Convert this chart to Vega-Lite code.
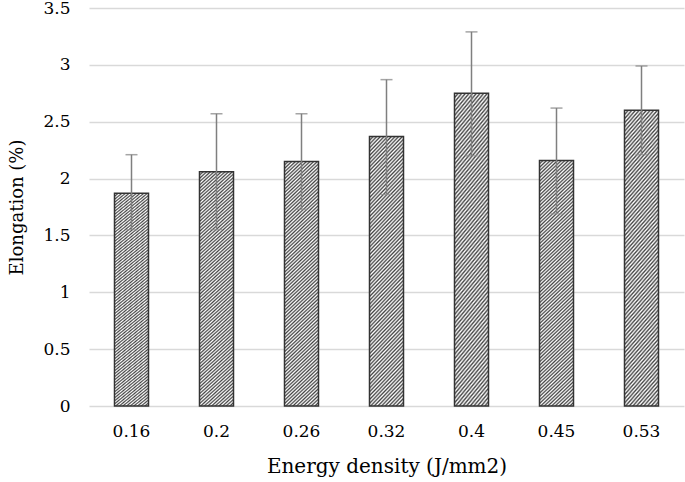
{
  "$schema": "https://vega.github.io/schema/vega-lite/v6.json",
  "width": 595,
  "height": 398,
  "autosize": {"type": "none"},
  "padding": {"left": 89, "top": 8, "right": 1, "bottom": 76},
  "background": "#ffffff",
  "config": {
    "view": {"stroke": null},
    "font": "DejaVu Serif",
    "axis": {"labelColor": "#000000", "titleColor": "#000000", "titleFontWeight": "normal"}
  },
  "data": {
    "values": [
      {"density": "0.16", "elongation": 1.87, "lo": 1.55, "hi": 2.21},
      {"density": "0.2", "elongation": 2.06, "lo": 1.55, "hi": 2.57},
      {"density": "0.26", "elongation": 2.15, "lo": 1.73, "hi": 2.57},
      {"density": "0.32", "elongation": 2.37, "lo": 1.86, "hi": 2.87},
      {"density": "0.4", "elongation": 2.75, "lo": 2.2, "hi": 3.29},
      {"density": "0.45", "elongation": 2.16, "lo": 1.69, "hi": 2.62},
      {"density": "0.53", "elongation": 2.6, "lo": 2.21, "hi": 2.99}
    ]
  },
  "encoding": {
    "x": {
      "field": "density",
      "type": "nominal",
      "sort": null,
      "scale": {"paddingInner": 0.6, "paddingOuter": 0.3},
      "axis": {
        "title": "Energy density (J/mm2)",
        "titleFont": "DejaVu Serif",
        "labelFont": "DejaVu Serif",
        "titleFontSize": 20,
        "titlePadding": 17,
        "labelFontSize": 17,
        "labelAngle": 0,
        "labelPadding": 17,
        "ticks": false,
        "domain": false
      }
    }
  },
  "layer": [
    {
      "mark": {
        "type": "bar",
        "stroke": "#333333",
        "strokeWidth": 1.5,
        "fill": {
          "gradient": "linear",
          "x1": 0, "y1": 0, "x2": 0.1464, "y2": 1.1123,
          "stops": [
            {"offset": 0, "color": "#444"}, {"offset": 0.00625, "color": "#fff"},
            {"offset": 0.0125, "color": "#444"}, {"offset": 0.01875, "color": "#fff"},
            {"offset": 0.025, "color": "#444"}, {"offset": 0.03125, "color": "#fff"},
            {"offset": 0.0375, "color": "#444"}, {"offset": 0.04375, "color": "#fff"},
            {"offset": 0.05, "color": "#444"}, {"offset": 0.05625, "color": "#fff"},
            {"offset": 0.0625, "color": "#444"}, {"offset": 0.06875, "color": "#fff"},
            {"offset": 0.075, "color": "#444"}, {"offset": 0.08125, "color": "#fff"},
            {"offset": 0.0875, "color": "#444"}, {"offset": 0.09375, "color": "#fff"},
            {"offset": 0.1, "color": "#444"}, {"offset": 0.10625, "color": "#fff"},
            {"offset": 0.1125, "color": "#444"}, {"offset": 0.11875, "color": "#fff"},
            {"offset": 0.125, "color": "#444"}, {"offset": 0.13125, "color": "#fff"},
            {"offset": 0.1375, "color": "#444"}, {"offset": 0.14375, "color": "#fff"},
            {"offset": 0.15, "color": "#444"}, {"offset": 0.15625, "color": "#fff"},
            {"offset": 0.1625, "color": "#444"}, {"offset": 0.16875, "color": "#fff"},
            {"offset": 0.175, "color": "#444"}, {"offset": 0.18125, "color": "#fff"},
            {"offset": 0.1875, "color": "#444"}, {"offset": 0.19375, "color": "#fff"},
            {"offset": 0.2, "color": "#444"}, {"offset": 0.20625, "color": "#fff"},
            {"offset": 0.2125, "color": "#444"}, {"offset": 0.21875, "color": "#fff"},
            {"offset": 0.225, "color": "#444"}, {"offset": 0.23125, "color": "#fff"},
            {"offset": 0.2375, "color": "#444"}, {"offset": 0.24375, "color": "#fff"},
            {"offset": 0.25, "color": "#444"}, {"offset": 0.25625, "color": "#fff"},
            {"offset": 0.2625, "color": "#444"}, {"offset": 0.26875, "color": "#fff"},
            {"offset": 0.275, "color": "#444"}, {"offset": 0.28125, "color": "#fff"},
            {"offset": 0.2875, "color": "#444"}, {"offset": 0.29375, "color": "#fff"},
            {"offset": 0.3, "color": "#444"}, {"offset": 0.30625, "color": "#fff"},
            {"offset": 0.3125, "color": "#444"}, {"offset": 0.31875, "color": "#fff"},
            {"offset": 0.325, "color": "#444"}, {"offset": 0.33125, "color": "#fff"},
            {"offset": 0.3375, "color": "#444"}, {"offset": 0.34375, "color": "#fff"},
            {"offset": 0.35, "color": "#444"}, {"offset": 0.35625, "color": "#fff"},
            {"offset": 0.3625, "color": "#444"}, {"offset": 0.36875, "color": "#fff"},
            {"offset": 0.375, "color": "#444"}, {"offset": 0.38125, "color": "#fff"},
            {"offset": 0.3875, "color": "#444"}, {"offset": 0.39375, "color": "#fff"},
            {"offset": 0.4, "color": "#444"}, {"offset": 0.40625, "color": "#fff"},
            {"offset": 0.4125, "color": "#444"}, {"offset": 0.41875, "color": "#fff"},
            {"offset": 0.425, "color": "#444"}, {"offset": 0.43125, "color": "#fff"},
            {"offset": 0.4375, "color": "#444"}, {"offset": 0.44375, "color": "#fff"},
            {"offset": 0.45, "color": "#444"}, {"offset": 0.45625, "color": "#fff"},
            {"offset": 0.4625, "color": "#444"}, {"offset": 0.46875, "color": "#fff"},
            {"offset": 0.475, "color": "#444"}, {"offset": 0.48125, "color": "#fff"},
            {"offset": 0.4875, "color": "#444"}, {"offset": 0.49375, "color": "#fff"},
            {"offset": 0.5, "color": "#444"}, {"offset": 0.50625, "color": "#fff"},
            {"offset": 0.5125, "color": "#444"}, {"offset": 0.51875, "color": "#fff"},
            {"offset": 0.525, "color": "#444"}, {"offset": 0.53125, "color": "#fff"},
            {"offset": 0.5375, "color": "#444"}, {"offset": 0.54375, "color": "#fff"},
            {"offset": 0.55, "color": "#444"}, {"offset": 0.55625, "color": "#fff"},
            {"offset": 0.5625, "color": "#444"}, {"offset": 0.56875, "color": "#fff"},
            {"offset": 0.575, "color": "#444"}, {"offset": 0.58125, "color": "#fff"},
            {"offset": 0.5875, "color": "#444"}, {"offset": 0.59375, "color": "#fff"},
            {"offset": 0.6, "color": "#444"}, {"offset": 0.60625, "color": "#fff"},
            {"offset": 0.6125, "color": "#444"}, {"offset": 0.61875, "color": "#fff"},
            {"offset": 0.625, "color": "#444"}, {"offset": 0.63125, "color": "#fff"},
            {"offset": 0.6375, "color": "#444"}, {"offset": 0.64375, "color": "#fff"},
            {"offset": 0.65, "color": "#444"}, {"offset": 0.65625, "color": "#fff"},
            {"offset": 0.6625, "color": "#444"}, {"offset": 0.66875, "color": "#fff"},
            {"offset": 0.675, "color": "#444"}, {"offset": 0.68125, "color": "#fff"},
            {"offset": 0.6875, "color": "#444"}, {"offset": 0.69375, "color": "#fff"},
            {"offset": 0.7, "color": "#444"}, {"offset": 0.70625, "color": "#fff"},
            {"offset": 0.7125, "color": "#444"}, {"offset": 0.71875, "color": "#fff"},
            {"offset": 0.725, "color": "#444"}, {"offset": 0.73125, "color": "#fff"},
            {"offset": 0.7375, "color": "#444"}, {"offset": 0.74375, "color": "#fff"},
            {"offset": 0.75, "color": "#444"}, {"offset": 0.75625, "color": "#fff"},
            {"offset": 0.7625, "color": "#444"}, {"offset": 0.76875, "color": "#fff"},
            {"offset": 0.775, "color": "#444"}, {"offset": 0.78125, "color": "#fff"},
            {"offset": 0.7875, "color": "#444"}, {"offset": 0.79375, "color": "#fff"},
            {"offset": 0.8, "color": "#444"}, {"offset": 0.80625, "color": "#fff"},
            {"offset": 0.8125, "color": "#444"}, {"offset": 0.81875, "color": "#fff"},
            {"offset": 0.825, "color": "#444"}, {"offset": 0.83125, "color": "#fff"},
            {"offset": 0.8375, "color": "#444"}, {"offset": 0.84375, "color": "#fff"},
            {"offset": 0.85, "color": "#444"}, {"offset": 0.85625, "color": "#fff"},
            {"offset": 0.8625, "color": "#444"}, {"offset": 0.86875, "color": "#fff"},
            {"offset": 0.875, "color": "#444"}, {"offset": 0.88125, "color": "#fff"},
            {"offset": 0.8875, "color": "#444"}, {"offset": 0.89375, "color": "#fff"},
            {"offset": 0.9, "color": "#444"}, {"offset": 0.90625, "color": "#fff"},
            {"offset": 0.9125, "color": "#444"}, {"offset": 0.91875, "color": "#fff"},
            {"offset": 0.925, "color": "#444"}, {"offset": 0.93125, "color": "#fff"},
            {"offset": 0.9375, "color": "#444"}, {"offset": 0.94375, "color": "#fff"},
            {"offset": 0.95, "color": "#444"}, {"offset": 0.95625, "color": "#fff"},
            {"offset": 0.9625, "color": "#444"}, {"offset": 0.96875, "color": "#fff"},
            {"offset": 0.975, "color": "#444"}, {"offset": 0.98125, "color": "#fff"},
            {"offset": 0.9875, "color": "#444"}, {"offset": 0.99375, "color": "#fff"},
            {"offset": 1, "color": "#444"}
          ]
        }
      },
      "encoding": {
        "y": {
          "field": "elongation",
          "type": "quantitative",
          "scale": {"domain": [0, 3.5], "nice": false, "zero": true},
          "axis": {
            "title": "Elongation (%)",
            "titleFont": "DejaVu Serif",
            "labelFont": "DejaVu Serif",
            "titleFontSize": 18,
            "titlePadding": 16,
            "labelFontSize": 17,
            "labelPadding": 19,
            "values": [0, 0.5, 1, 1.5, 2, 2.5, 3, 3.5],
            "format": "~g",
            "ticks": false,
            "domain": false,
            "grid": true,
            "gridColor": "#d9d9d9",
            "gridWidth": 1.3
          }
        }
      }
    },
    {
      "mark": {"type": "rule", "color": "#7f7f7f", "strokeWidth": 1.5},
      "encoding": {
        "y": {"field": "lo", "type": "quantitative"},
        "y2": {"field": "hi"}
      }
    },
    {
      "mark": {"type": "tick", "color": "#7f7f7f", "size": 12, "thickness": 1.5},
      "encoding": {
        "y": {"field": "hi", "type": "quantitative"}
      }
    },
    {
      "mark": {"type": "tick", "color": "#8a8a8a", "size": 12, "thickness": 1.2},
      "encoding": {
        "y": {"field": "lo", "type": "quantitative"}
      }
    }
  ]
}
